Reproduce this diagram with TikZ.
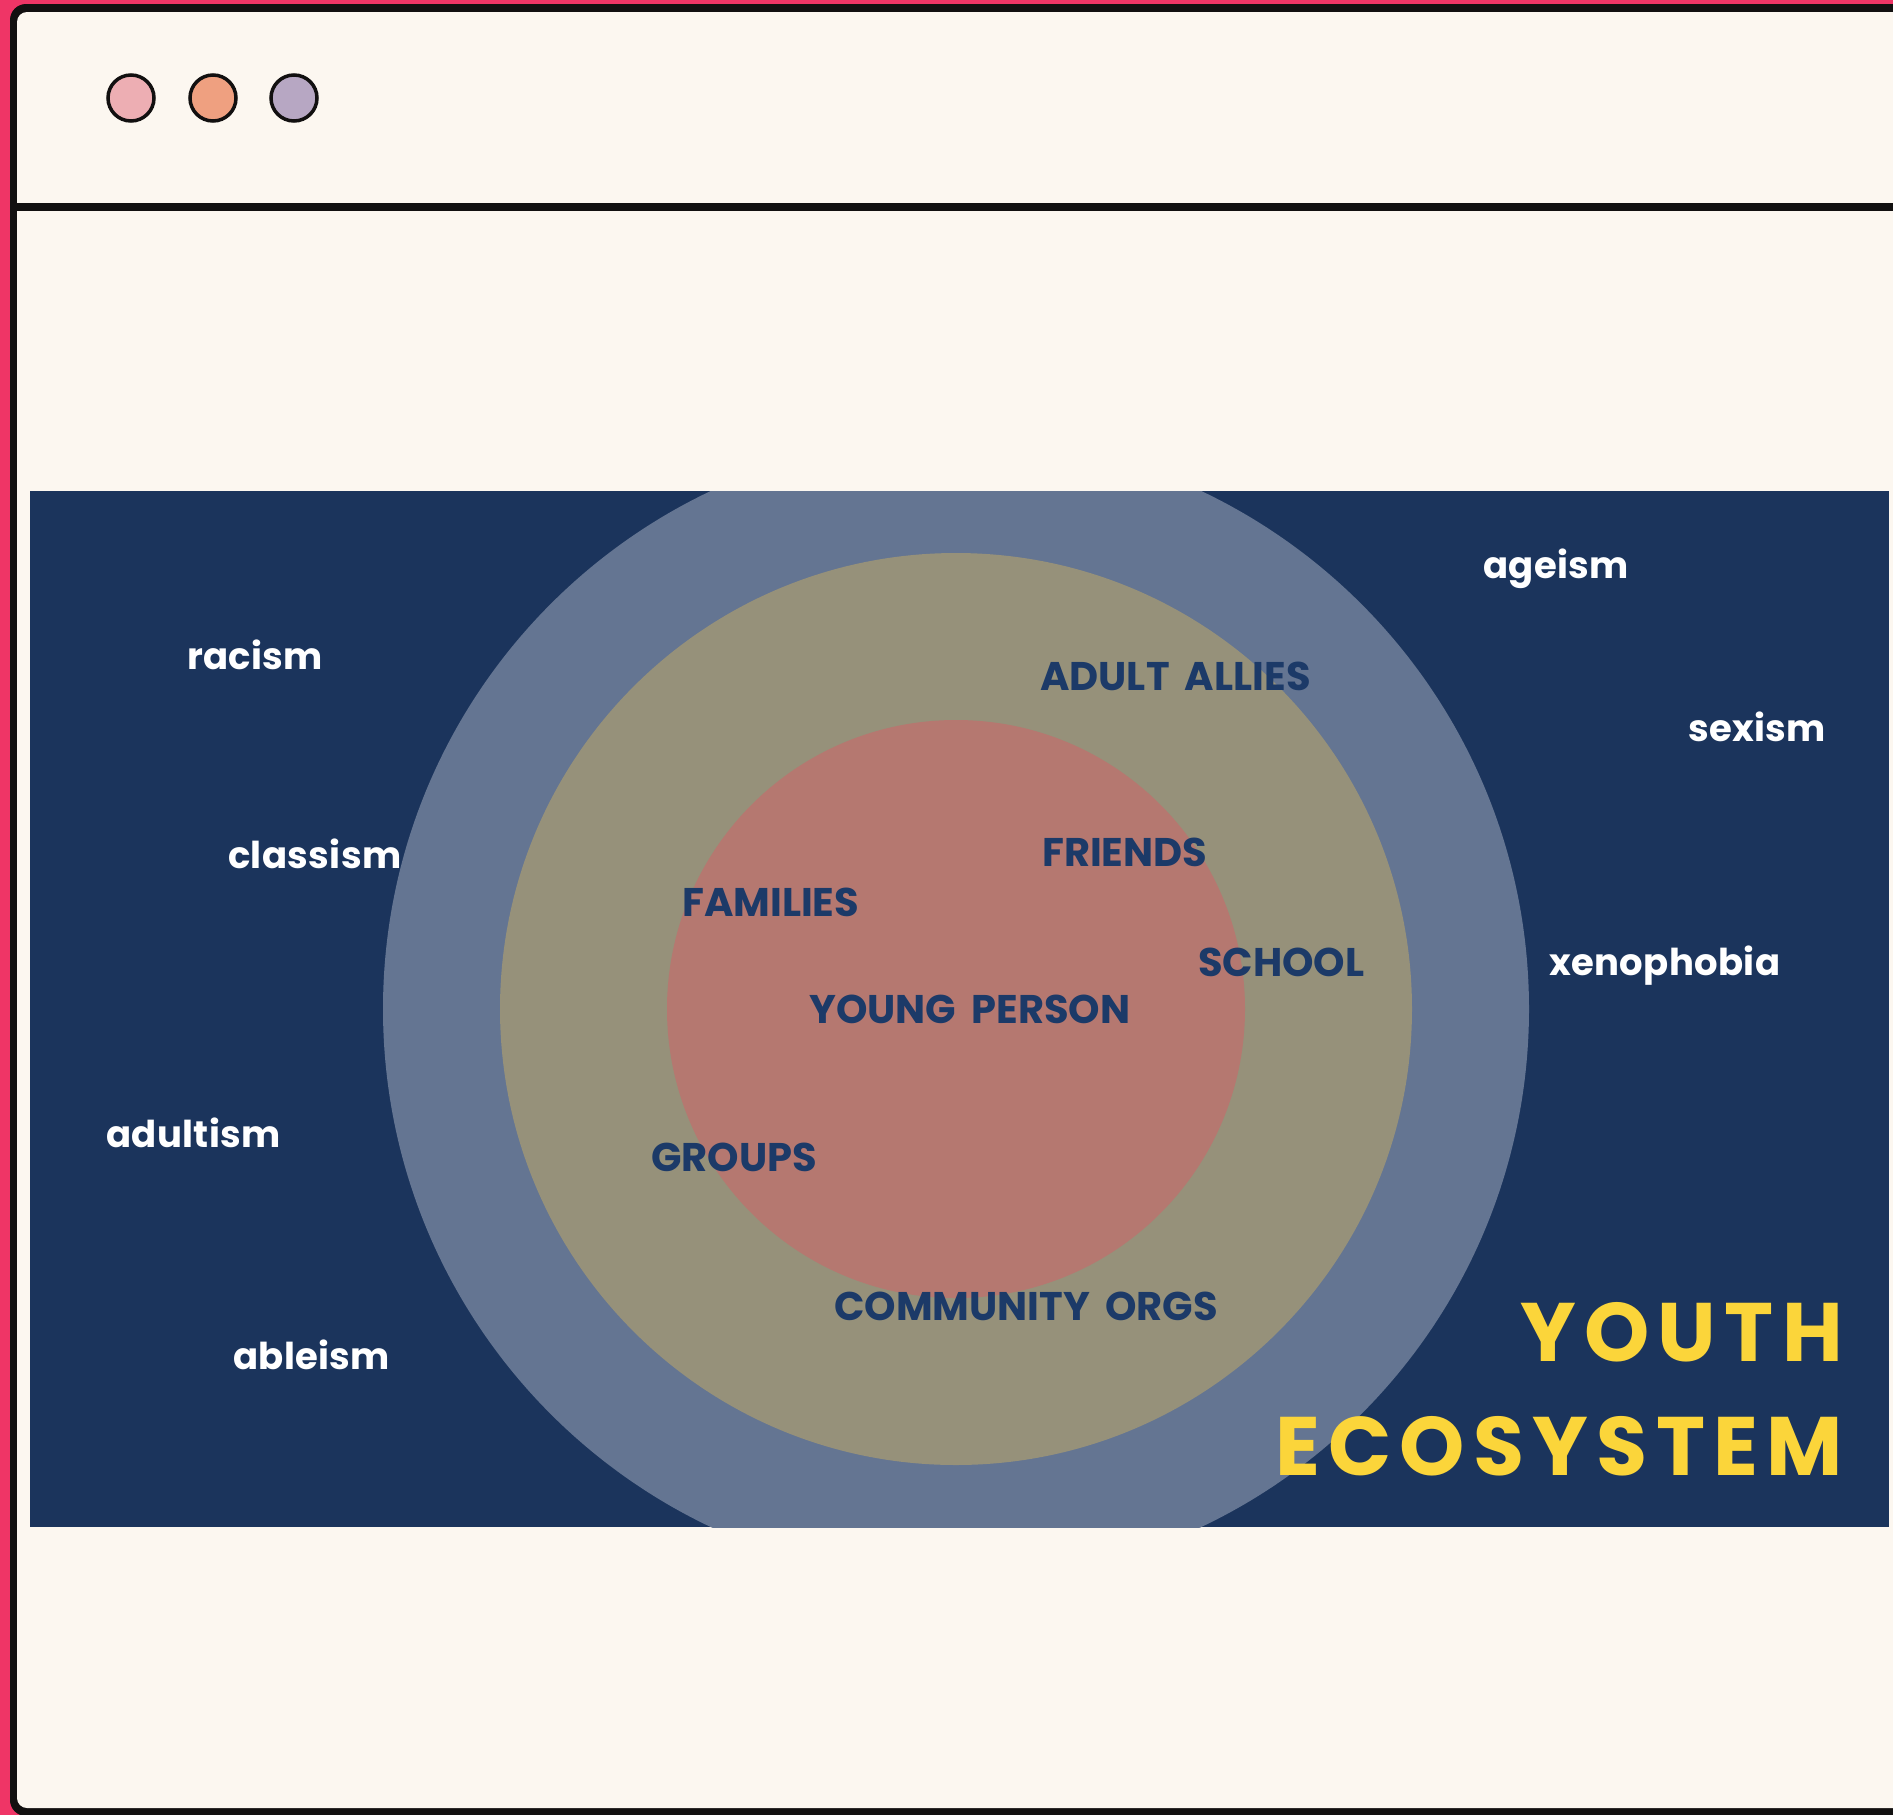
\documentclass[tikz,border=0pt]{standalone}
\usepackage{fontspec}
\setmainfont{Poppins}
\newfontfamily\spherefont{Poppins}[WordSpace=1.8]
\definecolor{edgepink}{HTML}{EF3566}
\definecolor{framedark}{HTML}{121010}
\definecolor{paper}{HTML}{FCF7F0}
\definecolor{dotpink}{HTML}{EDAEB3}
\definecolor{dotorange}{HTML}{EFA080}
\definecolor{dotlilac}{HTML}{B7A7C3}
\definecolor{navybg}{HTML}{1B345C}
\definecolor{ringouter}{HTML}{647592}
\definecolor{ringmiddle}{HTML}{96917A}
\definecolor{ringinner}{HTML}{B57870}
\definecolor{labelnavy}{HTML}{1C3A68}
\definecolor{titleyellow}{HTML}{FBD53A}
\tikzset{
  winbtn/.style={draw=framedark, line width=3.5pt},
  issue/.style={anchor=base west, inner sep=0pt, text=white,
    font=\fontsize{37}{37}\selectfont\bfseries\addfontfeatures{LetterSpace=1}},
  sphere/.style={anchor=base west, inner sep=0pt, text=labelnavy,
    font=\spherefont\fontsize{40}{40}\selectfont\bfseries},
  headline/.style={anchor=base east, inner sep=0pt, text=titleyellow,
    font=\fontsize{83}{83}\selectfont\bfseries\addfontfeatures{LetterSpace=10}}
}
\begin{document}
\begin{tikzpicture}[x=1pt,y=-1pt]
\useasboundingbox (0,0) rectangle (1893,1815);
\clip (0,0) rectangle (1893,1815);
% window chrome
\fill[edgepink] (0,0) rectangle (1893,1815);
\fill[framedark, rounded corners=16pt] (10,4) rectangle (1940,1816);
\fill[paper, rounded corners=10pt] (17,12) rectangle (1940,1808);
\fill[framedark] (17,203) rectangle (1893,211);
\filldraw[winbtn, fill=dotpink]   (131,98) circle (23);
\filldraw[winbtn, fill=dotorange] (213,98) circle (23);
\filldraw[winbtn, fill=dotlilac]  (294,98) circle (23);
% ecosystem panel
\begin{scope}
  \clip (30,491) rectangle (1889,1527);
  \fill[navybg] (30,491) rectangle (1889,1527);
  \fill[ringouter]  (956,1009) circle (573);
  \fill[ringmiddle] (956,1009) circle (456);
  \fill[ringinner]  (956,1009) circle (289);
\end{scope}
% outer forces
\node[issue] (racism)     at (187,669)  {racism};
\node[issue] (ageism)     at (1483,578) {ageism};
\node[issue] (sexism)     at (1688,741) {sexism};
\node[issue] (classism)   at (228,868)  {classism};
\node[issue] (xenophobia) at (1549,975) {xenophobia};
\node[issue] (adultism)   at (106,1147) {adultism};
\node[issue] (ableism)    at (233,1369) {ableism};
% circles of support
\node[sphere] (allies)    at (1040,690)  {ADULT ALLIES};
\node[sphere] (friends)   at (1042,866)  {FRIENDS};
\node[sphere] (families)  at (682,916)   {FAMILIES};
\node[sphere] (school)    at (1198,976)  {SCHOOL};
\node[sphere] (young)     at (809,1023)  {YOUNG PERSON};
\node[sphere] (groups)    at (651,1171)  {GROUPS};
\node[sphere] (orgs)      at (834,1320)  {COMMUNITY ORGS};
% title
\node[headline] (youth) at (1843,1361) {YOUTH};
\node[headline] (eco)   at (1843,1475) {ECOSYSTEM};
\end{tikzpicture}
\end{document}
